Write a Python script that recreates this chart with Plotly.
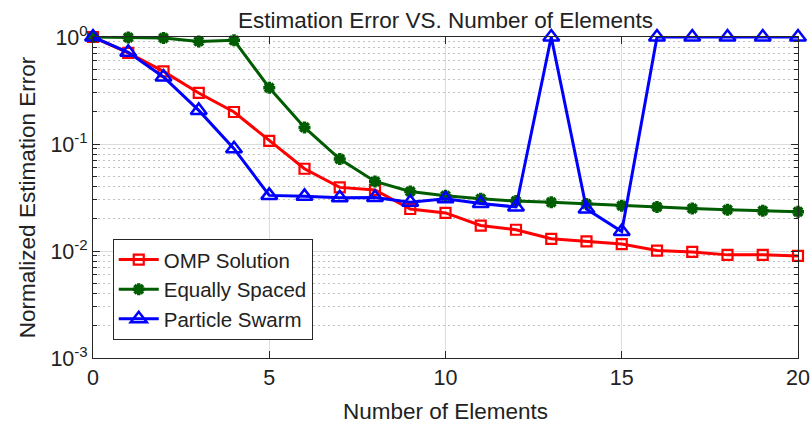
import plotly.graph_objects as go

# Number of array elements
elements = list(range(0, 21))

# Normalized estimation error for each design method
omp_solution = [1.0, 0.71, 0.477, 0.30, 0.199, 0.107, 0.0587, 0.0393, 0.0372, 0.0247,
                0.0227, 0.0173, 0.0158, 0.0130, 0.0123, 0.0116, 0.0101, 0.0098, 0.0092,
                0.0092, 0.0090]
equally_spaced = [1.0, 0.99, 0.98, 0.91, 0.93, 0.336, 0.143, 0.0724, 0.0447, 0.036,
                  0.0329, 0.0308, 0.0293, 0.0285, 0.0275, 0.0265, 0.0258, 0.0250, 0.0243,
                  0.0238, 0.0233]
particle_swarm = [1.0, 0.72, 0.423, 0.206, 0.0904, 0.0331, 0.0324, 0.0314, 0.0317, 0.0285,
                  0.0308, 0.0278, 0.0258, 1.0, 0.0247, 0.0152, 1.0, 1.0, 1.0, 1.0, 1.0]

x_ticks = [0, 5, 10, 15, 20]
y_ticks = [1, 0.1, 0.01, 0.001]
y_tick_labels = ["10<sup>0</sup>", "10<sup>-1</sup>", "10<sup>-2</sup>", "10<sup>-3</sup>"]
y_minor = [m * 10 ** e for e in (-3, -2, -1) for m in range(2, 10)]

FONT = "Liberation Sans, Arial, Helvetica, sans-serif"
TEXT = "#222222"

fig = go.Figure()

fig.add_trace(go.Scatter(
    x=elements, y=omp_solution, name="OMP Solution", mode="lines+markers",
    line=dict(color="#ff0000", width=3),
    marker=dict(symbol="square-open", size=10, color="#ff0000", line=dict(width=2.2)),
    cliponaxis=False,
))
fig.add_trace(go.Scatter(
    x=elements, y=equally_spaced, name="Equally Spaced", mode="lines+markers",
    line=dict(color="#005c00", width=3),
    marker=dict(symbol="asterisk-open", size=10, color="#005c00", line=dict(width=3.5, color="#005c00")),
    cliponaxis=False,
))
fig.add_trace(go.Scatter(
    x=elements, y=particle_swarm, name="Particle Swarm", mode="lines+markers",
    line=dict(color="#0000ff", width=3),
    marker=dict(symbol="triangle-up-open", size=14, color="#0000ff", line=dict(width=2.5)),
    cliponaxis=False,
))

fig.update_layout(
    width=811, height=425,
    margin=dict(l=93, r=13, t=37, b=67),
    paper_bgcolor="white", plot_bgcolor="white",
    font=dict(family=FONT, size=20, color=TEXT),
    title=dict(text="Estimation Error VS. Number of Elements", x=0.5, xref="paper",
               xanchor="center", y=1 - 20 / 425, yref="container", yanchor="middle",
               font=dict(size=22.5, color=TEXT)),
    showlegend=True,
    legend=dict(x=0.028, y=0.057, xanchor="left", yanchor="bottom",
                bgcolor="white", bordercolor="#262626", borderwidth=1,
                font=dict(size=20.5, color=TEXT), tracegroupgap=0, itemwidth=40),
)

fig.update_xaxes(
    range=[0, 20], tickvals=x_ticks, ticks="inside", ticklen=7, tickcolor="#262626",
    showline=True, linecolor="#262626", linewidth=1, mirror="ticks",
    showgrid=True, gridcolor="#dcdcdc", gridwidth=1, zeroline=False,
    tickfont=dict(size=21.5, color=TEXT), automargin=False,
    title=dict(text="Number of Elements", font=dict(size=22.5, color=TEXT), standoff=14),
)
fig.update_yaxes(
    type="log", range=[-3, 0], tickvals=y_ticks, ticktext=y_tick_labels,
    ticks="inside", ticklen=7, tickcolor="#262626",
    showline=True, linecolor="#262626", linewidth=1, mirror="ticks",
    showgrid=True, gridcolor="#dcdcdc", gridwidth=1, zeroline=False,
    minor=dict(tickvals=y_minor, ticks="inside", ticklen=4, tickcolor="#262626",
               showgrid=True, gridcolor="#c2c2c2", griddash="1.5px,3.5px", gridwidth=1),
    tickfont=dict(size=21.5, color=TEXT), automargin=False,
    title=dict(text="Normalized Estimation Error", font=dict(size=22.5, color=TEXT), standoff=8),
)

fig.write_html("out.html")
